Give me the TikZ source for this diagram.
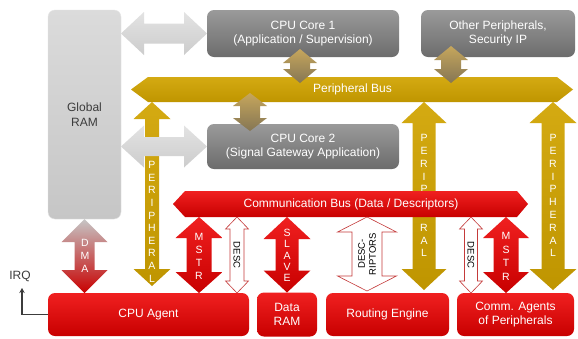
\documentclass[tikz,border=0pt]{standalone}
\usepackage{fontspec}
\setmainfont{Liberation Sans}
\usetikzlibrary{calc,positioning,arrows.meta}

\definecolor{redtop}{HTML}{F02020}
\definecolor{redbot}{HTML}{C80000}
\definecolor{goldtop}{HTML}{D4AA12}
\definecolor{goldbot}{HTML}{BF9500}
\definecolor{coretop}{HTML}{9A9A9A}
\definecolor{corebot}{HTML}{6C6C6C}
\definecolor{ramtop}{HTML}{DBDBDB}
\definecolor{rambot}{HTML}{C6C6C6}
\definecolor{linkgold}{HTML}{C6A65C}
\definecolor{linkgray}{HTML}{857654}
\definecolor{descred}{HTML}{C43A3A}
\definecolor{textgray}{HTML}{3C3C3C}

% vertical double block arrow: style, upper tip, lower tip, shaft half width, head half width, head length
\newcommand{\vdbl}[6]{%
  \coordinate (t) at (#2);
  \coordinate (b) at (#3);
  \path[#1] (t) -- ($(t)+(#5,#6)$) -- ($(t)+(#4,#6)$) -- ($(b)+(#4,-#6)$)
    -- ($(b)+(#5,-#6)$) -- (b) -- ($(b)+(-#5,-#6)$) -- ($(b)+(-#4,-#6)$)
    -- ($(t)+(-#4,#6)$) -- ($(t)+(-#5,#6)$) -- cycle;}

% horizontal double block arrow: style, left tip, right tip, shaft half width, head half width, head length
\newcommand{\hdbl}[6]{%
  \coordinate (l) at (#2);
  \coordinate (r) at (#3);
  \path[#1] (l) -- ($(l)+(#6,-#5)$) -- ($(l)+(#6,-#4)$) -- ($(r)+(-#6,-#4)$)
    -- ($(r)+(-#6,-#5)$) -- (r) -- ($(r)+(-#6,#5)$) -- ($(r)+(-#6,#4)$)
    -- ($(l)+(#6,#4)$) -- ($(l)+(#6,#5)$) -- cycle;}

% letters stacked down an arrow: name, x, first y, step, letters
\newcommand{\vword}[5]{%
  \foreach \c [count=\i from 0] in {#5}
    \node[letter] (#1\i) at (#2,#3+#4*\i) {\c};}

\begin{document}
\begin{tikzpicture}[x=1pt,y=-1pt,
  every node/.style={font=\fontsize{12}{14.5}\selectfont, align=center, outer sep=0pt, inner sep=0pt},
  ram/.style={rounded corners=7pt, top color=ramtop, bottom color=rambot, draw=white!80!gray, text=textgray},
  core/.style={rounded corners=7pt, top color=coretop, bottom color=corebot, text=white},
  agent/.style={rounded corners=7pt, top color=redtop, bottom color=redbot, text=white},
  goldbus/.style={top color=goldtop, bottom color=goldbot},
  redbus/.style={top color=redtop, bottom color=redbot},
  grayarrow/.style={top color=gray!22, bottom color=gray!40},
  linkarrow/.style={top color=linkgold, bottom color=linkgray},
  dmaarrow/.style={top color=gray!45, bottom color=redbot},
  descarrow/.style={fill=white, draw=descred, line width=0.6pt},
  letter/.style={text=white, font=\fontsize{10.5}{12}\selectfont},
  desc/.style={text=black, font=\fontsize{9.5}{11}\selectfont},
  irqline/.style={draw=textgray, line width=1.6pt, -{Stealth[length=5pt,width=5.5pt]}}]

    % page size
    \fill[white] (0,0) rectangle (578,338);
    \useasboundingbox (0,0) rectangle (578,338);

    % Global RAM on the left
    \node[ram, minimum width=73pt, minimum height=209pt] (gram) at (84.5,114.5) {Global\\RAM};

    % Cores and other peripherals
    \node[core, minimum width=192pt, minimum height=47pt] (core1) at (303,33.5) {CPU Core 1\\(Application / Supervision)};
    \node[core, minimum width=154pt, minimum height=47pt] (otherp) at (498,33.5) {Other Peripherals,\\Security IP};
    \node[core, minimum width=192pt, minimum height=45pt] (core2) at (303,146.5) {CPU Core 2\\(Signal Gateway Application)};

    % Bottom row
    \node[agent, minimum width=201pt, minimum height=43pt] (cpuagent) at (148.5,314.5) {CPU Agent};
    \node[agent, minimum width=60pt, minimum height=44pt, right=8pt of cpuagent] (dataram) {Data\\RAM};
    \node[agent, minimum width=123pt, minimum height=43pt, right=9pt of dataram] (routing) {Routing Engine};
    \node[agent, minimum width=117pt, minimum height=43pt, right=8pt of routing] (commag) {Comm. Agents\\of Peripherals};

    % Peripheral bus
    \node[minimum width=409pt, minimum height=25pt] (pbus) at (352.5,89.5) {};
    \path[goldbus] (pbus.north west) -- (pbus.north east) -- ($(pbus.east)+(16,0)$)
      -- (pbus.south east) -- (pbus.south west) -- ($(pbus.west)+(-17,0)$) -- cycle;
    \node[text=white] (pbuslabel) at (pbus) {Peripheral Bus};

    % Peripheral links down to the agents
    \vdbl{goldbus}{152,0 |- pbus.south}{$(cpuagent.north -| 152,0)+(0,-7)$}{7}{18.5}{17}
    \vdbl{goldbus}{424,0 |- pbus.south}{$(routing.north -| 424,0)+(0,-3)$}{11.5}{22.5}{21}
    \vdbl{goldbus}{553,0 |- pbus.south}{$(commag.north -| 553,0)+(0,-3)$}{11.5}{23.5}{21}
    \vword{pl}{152}{165}{12.6}{P,E,R,I,P,H,E,R,A,L}
    % middle letters hidden by the communication bus
    \vword{pm}{424}{138}{12.8}{P,E,R,I,P}
    \vword{pn}{424}{227.6}{12.8}{R,A,L}
    \vword{pr}{553}{138}{12.8}{P,E,R,I,P,H,E,R,A,L}

    % Global RAM to the cores
    \hdbl{grayarrow}{gram.east |- core1.west}{core1.west}{10}{21.5}{23}
    \hdbl{grayarrow}{gram.east |- core2.west}{core2.west}{9.5}{21}{23}

    % Cores to the peripheral bus
    \vdbl{linkarrow}{$(core1.south -| 300,0)+(0,-8)$}{$(pbus.north -| 300,0)+(0,6)$}{10}{17}{14}
    \vdbl{linkarrow}{$(otherp.south -| 451,0)+(0,-11)$}{$(pbus.north -| 451,0)+(0,6)$}{10}{17}{14}
    \vdbl{linkarrow}{$(pbus.south -| 250,0)+(0,-9)$}{$(core2.north -| 250,0)+(0,7)$}{10}{17}{13}

    % Communication bus
    \node[minimum width=332pt, minimum height=26pt] (cbus) at (351,204) {};
    \path[redbus] (cbus.north west) -- (cbus.north east) -- ($(cbus.east)+(11,0)$)
      -- (cbus.south east) -- (cbus.south west) -- ($(cbus.west)+(-12,0)$) -- cycle;
    \node[text=white] (cbuslabel) at (cbus) {Communication Bus (Data / Descriptors)};

    % Master, slave and descriptor links
    \vdbl{redbus}{199,0 |- cbus.south}{199,0 |- cpuagent.north}{12.5}{23.5}{21}
    \vdbl{descarrow}{237,0 |- cbus.south}{237,0 |- cpuagent.north}{7}{11.5}{12}
    \vdbl{redbus}{287,0 |- cbus.south}{287,0 |- dataram.north}{11.5}{23.5}{22}
    \vdbl{descarrow}{367,0 |- cbus.south}{$(routing.north -| 367,0)+(0,-2)$}{15}{29.5}{15}
    \vdbl{descarrow}{471,0 |- cbus.south}{471,0 |- commag.north}{6.5}{11.5}{12}
    \vdbl{redbus}{506,0 |- cbus.south}{506,0 |- commag.north}{12.5}{23}{21}
    \vword{ms}{199}{237}{12.8}{M,S,T,R}
    \vword{sl}{287}{233}{11.2}{S,L,A,V,E}
    \vword{mr}{506}{236}{13.5}{M,S,T,R}
    \node[desc, rotate=-90] (descl) at (237,255) {DESC};
    \node[desc, rotate=90] (descrip) at (367,254) {DESC-\\RIPTORS};
    \node[desc, rotate=-90] (descr) at (471,255) {DESC};

    % DMA between Global RAM and CPU agent
    \vdbl{dmaarrow}{gram.south}{gram.south |- cpuagent.north}{10}{23}{23}
    \vword{dm}{85}{243}{13}{D,M,A}

    % Interrupt line
    \node[text=textgray] (irq) at (20,276) {IRQ};
    \coordinate (irqtip) at (22,288);
    \draw[irqline] (cpuagent.west) -| (irqtip);

\end{tikzpicture}
\end{document}
